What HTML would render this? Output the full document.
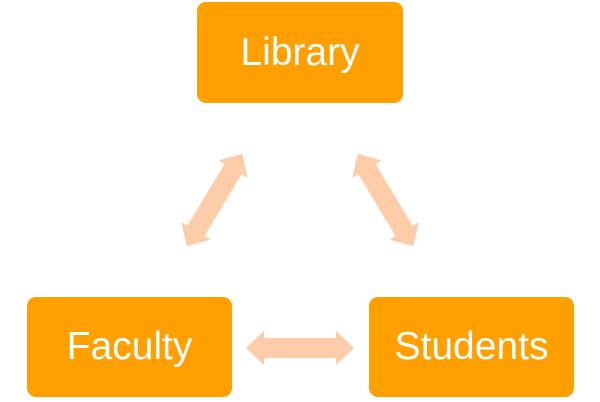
<!DOCTYPE html>
<html><head><style>
html,body{margin:0;padding:0;background:#fff;width:600px;height:402px;overflow:hidden}
.b{position:absolute;background:#FF9F00;border-radius:9px;color:#fff;font-family:"Liberation Sans",sans-serif;font-size:39px;display:flex;align-items:center;justify-content:center}
svg{position:absolute;left:0;top:0}
</style></head><body>
<svg width="600" height="402">
<defs><polygon id="a" points="-54,0 -36,-17 -36,-10 36,-10 36,-17 54,0 36,17 36,10 -36,10 -36,17" fill="#FDCDAA"/></defs>
<use href="#a" transform="translate(300,348)"/>
<use href="#a" transform="translate(214.5,200) rotate(-59)"/>
<use href="#a" transform="translate(385.5,200) rotate(59)"/>
</svg>
<div class="b" style="left:197px;top:2px;width:206px;height:101px">Library</div>
<div class="b" style="left:27px;top:297px;width:205px;height:100px">Faculty</div>
<div class="b" style="left:369px;top:297px;width:205px;height:100px">Students</div>
</body></html>
